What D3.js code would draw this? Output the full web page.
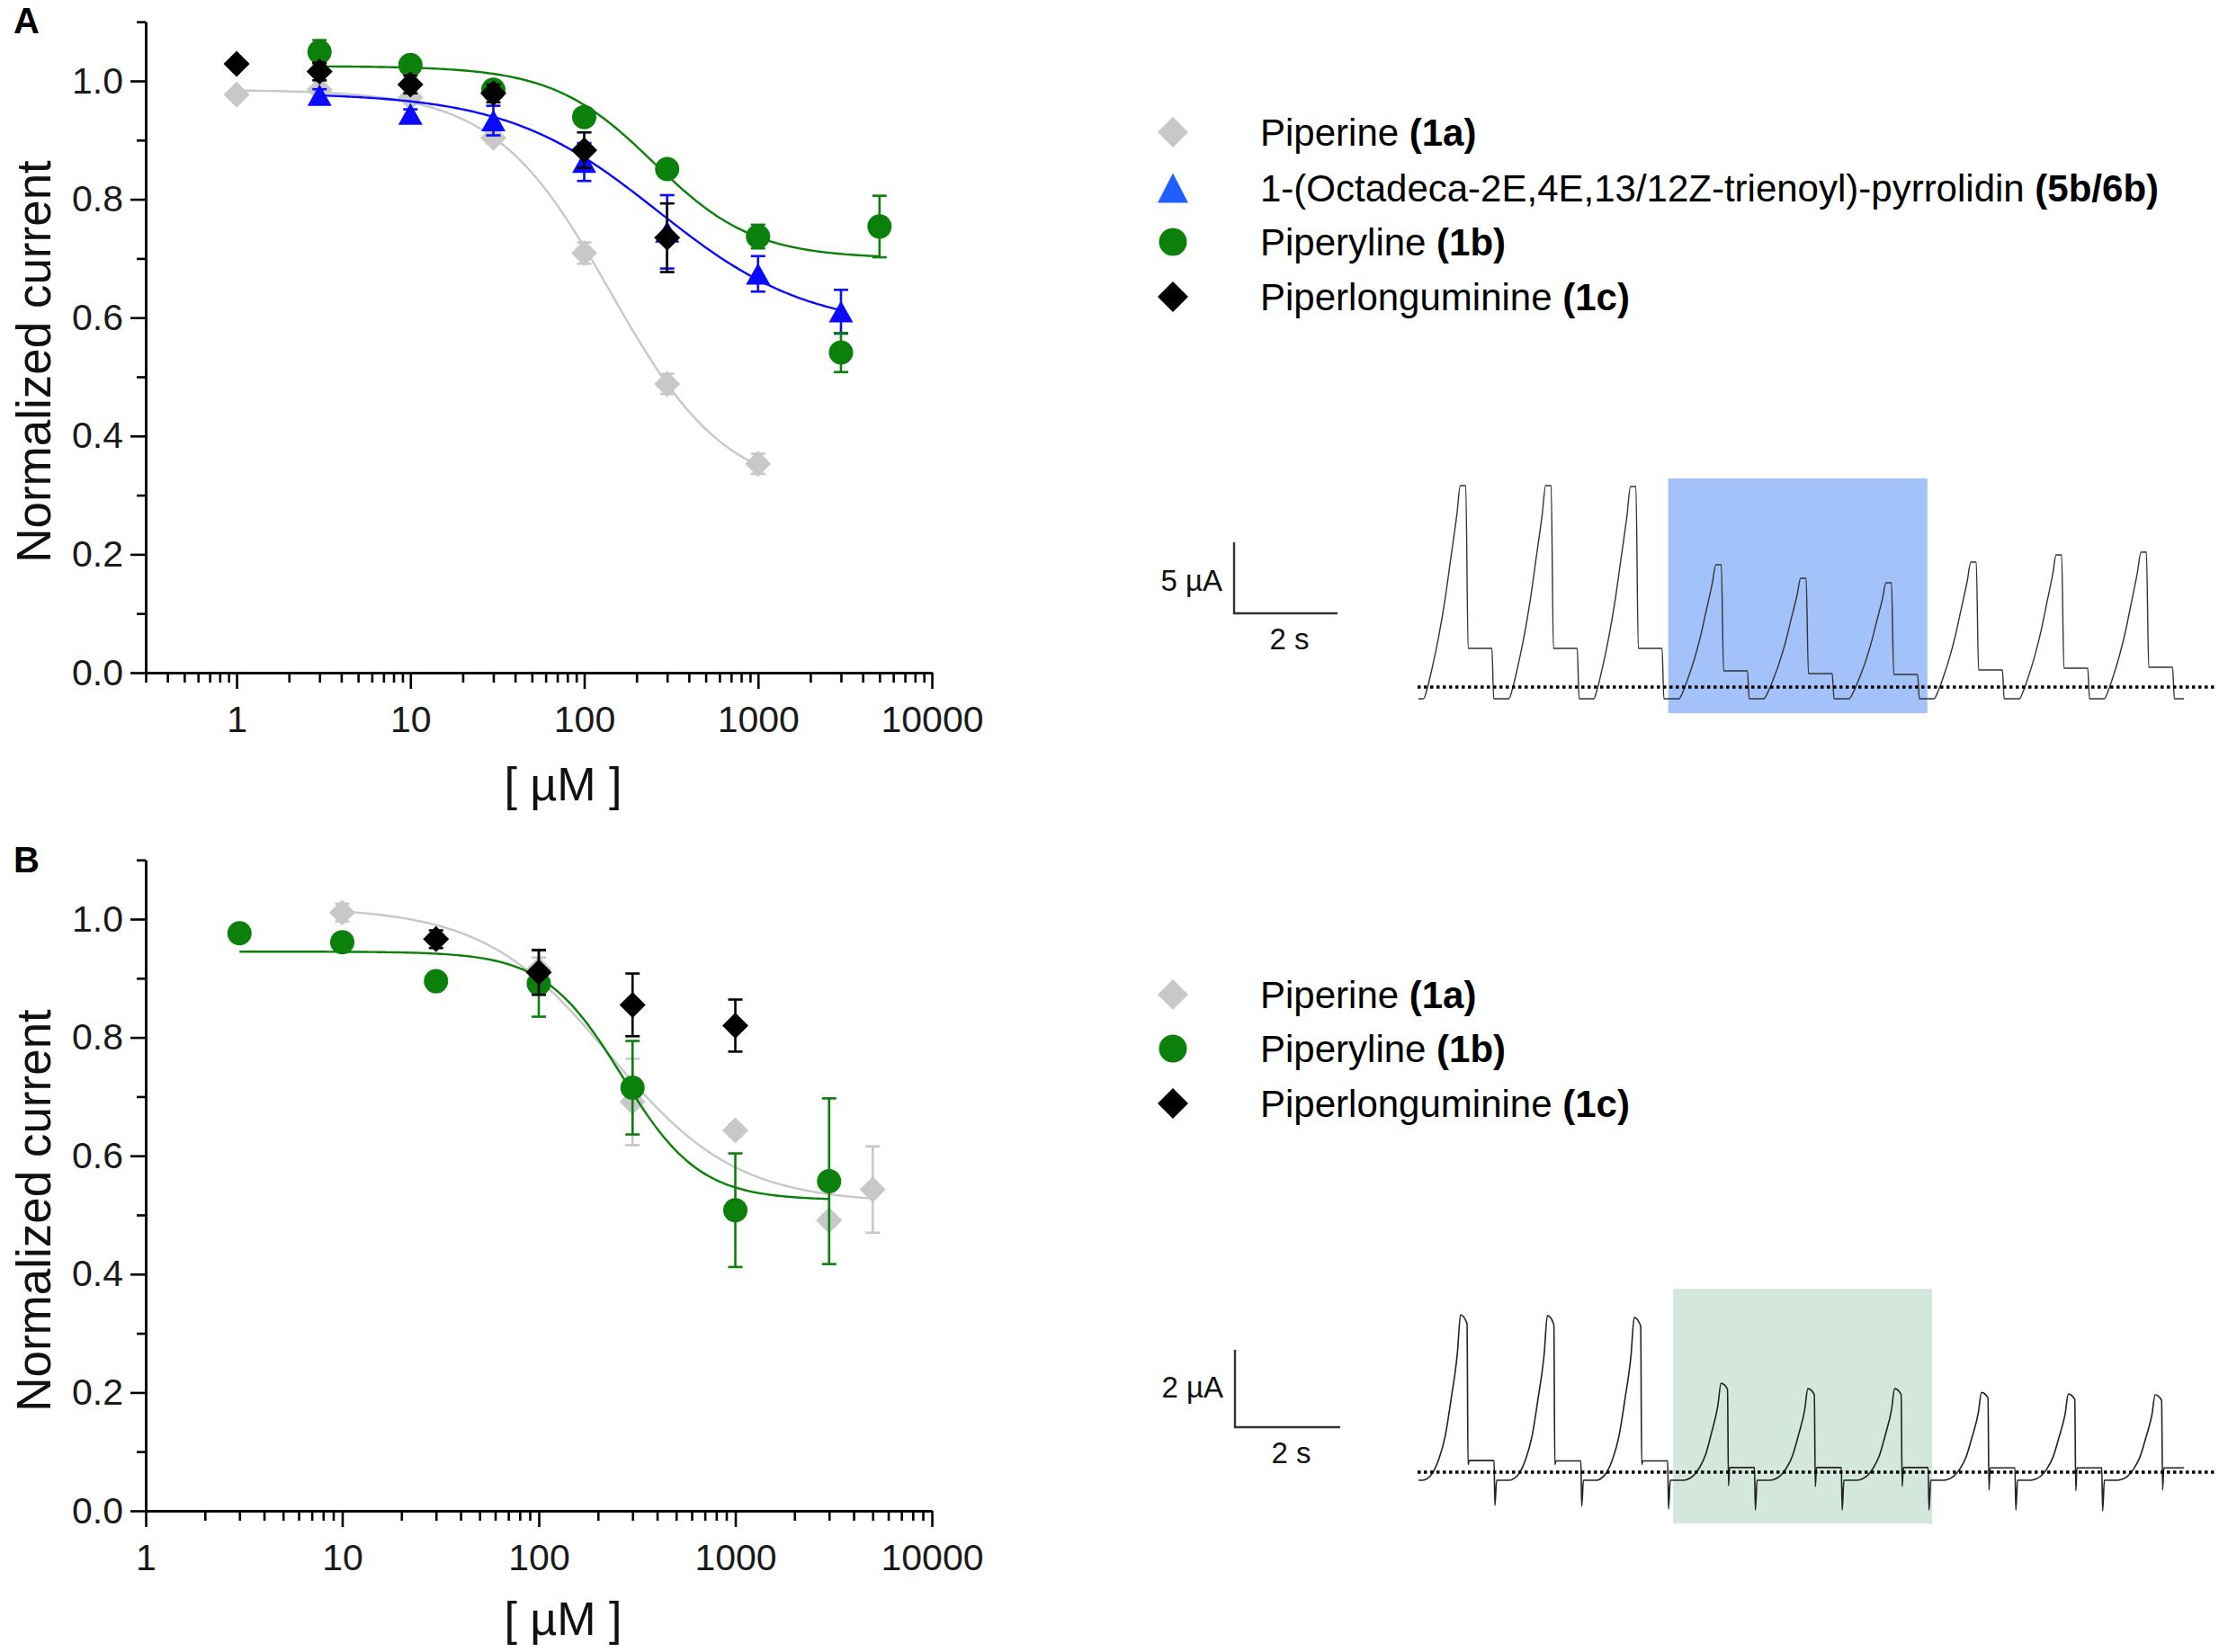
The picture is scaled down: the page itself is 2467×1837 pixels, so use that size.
<!DOCTYPE html>
<html><head><meta charset="utf-8">
<script src="https://cdn.jsdelivr.net/npm/d3@7"></script>
<style>body{margin:0;background:#fff} svg{display:block}</style>
</head><body><svg id="c" width="2467" height="1837"></svg>
<script>
// ===================== DATA =====================
// axis ticks
const xMajorTicks = [1, 10, 100, 1000, 10000];
const xTickLabels = ["1", "10", "100", "1000", "10000"];
const yMajorTicks = [0, 0.2, 0.4, 0.6, 0.8, 1.0];
const yTickLabels = ["0.0", "0.2", "0.4", "0.6", "0.8", "1.0"];
const yMinorTicks = [0.1, 0.3, 0.5, 0.7, 0.9, 1.1];

// legend
const legendNamesA = ["Piperine", "1-(Octadeca-2E,4E,13/12Z-trienoyl)-pyrrolidin", "Piperyline", "Piperlonguminine"];
const legendCodesA = ["(1a)", "(5b/6b)", "(1b)", "(1c)"];
const legendNamesB = ["Piperine", "Piperyline", "Piperlonguminine"];
const legendCodesB = ["(1a)", "(1b)", "(1c)"];

// Panel A  (concentration in µM, normalized current, SEM)
const piperineA_x = [1, 3, 10, 30, 100, 300, 1000];
const piperineA_y = [0.977, 0.985, 0.972, 0.904, 0.709, 0.488, 0.353];
const piperineA_e = [0, 0.006, 0.01, 0.01, 0.018, 0.017, 0.017];
const pyrrolidinA_x = [3, 10, 30, 100, 300, 1000, 3000];
const pyrrolidinA_y = [0.976, 0.944, 0.933, 0.863, 0.745, 0.674, 0.610];
const pyrrolidinA_e = [0.01, 0.008, 0.025, 0.032, 0.062, 0.03, 0.037];
const piperylineA_x = [3, 10, 30, 100, 300, 1000, 3000, 5000];
const piperylineA_y = [1.049, 1.027, 0.985, 0.939, 0.851, 0.737, 0.541, 0.754];
const piperylineA_e = [0.02, 0.01, 0.012, 0.01, 0.01, 0.02, 0.033, 0.052];
const piperlongA_x = [1, 3, 10, 30, 100, 300];
const piperlongA_y = [1.029, 1.016, 0.994, 0.979, 0.883, 0.735];
const piperlongA_e = [0, 0.015, 0.015, 0.015, 0.03, 0.058];

// Panel B
const piperineB_x = [10, 100, 300, 1000, 3000, 5000];
const piperineB_y = [1.011, 0.915, 0.691, 0.643, 0.491, 0.543];
const piperineB_e = [0.015, 0.02, 0.073, 0.01, 0.01, 0.073];
const piperylineB_x = [3, 10, 30, 100, 300, 1000, 3000];
const piperylineB_y = [0.976, 0.961, 0.895, 0.891, 0.715, 0.508, 0.557];
const piperylineB_e = [0, 0, 0, 0.056, 0.079, 0.096, 0.14];
const piperlongB_x = [30, 100, 300, 1000];
const piperlongB_y = [0.966, 0.910, 0.855, 0.820];
const piperlongB_e = [0.015, 0.038, 0.053, 0.044];

// Sigmoidal (Hill) fits: [top, bottom, IC50 µM, Hill slope], [from, to]
const piperineA_fit = [0.985, 0.30, 142, 1.3],  piperineA_fitRange = [1, 1000];
const pyrrolidinA_fit = [0.98, 0.58, 265, 1.0], pyrrolidinA_fitRange = [3, 3000];
const piperylineA_fit = [1.025, 0.70, 250, 1.5], piperylineA_fitRange = [3, 5000];
const piperineB_fit = [1.02, 0.52, 230, 1.35],  piperineB_fitRange = [10, 5000];
const piperylineB_fit = [0.945, 0.525, 265, 2.2], piperylineB_fitRange = [3, 3000];

// Inset A current trace (time s, current µA)
const traceA_starts  = [0.10, 1.75, 3.39, 5.04, 6.68, 8.33, 9.97, 11.62, 13.26];
const traceA_peak    = [14.18, 14.18, 14.11, 8.61, 7.66, 7.34, 8.80, 9.30, 9.49];
const traceA_plateau = [2.72, 2.72, 2.72, 1.14, 0.95, 0.89, 1.20, 1.33, 1.39];
const traceA_low = -0.82, traceA_end = 14.8;
const riseA_t = [0, 0.06, 0.17, 0.29, 0.41, 0.52, 0.64, 0.71];
const riseA_f = [0, 0.04, 0.15, 0.29, 0.46, 0.65, 0.86, 1];
const traceA_window = [4.83, 9.84], traceA_windowI = [-1.84, 14.68];

// Inset B current trace
const traceB_starts  = [0.08, 1.73, 3.38, 5.03, 6.68, 8.33, 9.98, 11.63, 13.28];
const traceB_peak    = [4.07, 4.05, 4.00, 2.30, 2.16, 2.16, 2.06, 2.02, 2.00];
const traceB_peakEnd = [3.84, 3.82, 3.78, 2.15, 2.01, 2.01, 1.92, 1.88, 1.86];
const traceB_dip     = [0.20, 0.20, 0.20, -0.35, -0.37, -0.37, -0.46, -0.48, -0.46];
const traceB_plateau = [0.30, 0.29, 0.29, 0.12, 0.12, 0.12, 0.11, 0.11, 0.11];
const traceB_tail    = [-0.86, -0.88, -0.95, -0.98, -0.98, -0.98, -0.98, -1.0, -1.0];
const traceB_low = -0.21, traceB_end = 14.55;
const riseB_t = [0, 0.085, 0.2, 0.31, 0.43, 0.54, 0.66, 0.72];
const riseB_f = [0, 0.01, 0.05, 0.13, 0.27, 0.49, 0.77, 1];
const traceB_window = [4.84, 9.76], traceB_windowI = [-1.33, 4.74];

// ===================== DRAWING =====================
const FONT = '"Liberation Sans", Arial, Helvetica, sans-serif';
const C = { gray: "#c8c8c8", blue: "#0a0aff", blueLeg: "#1f5fff", green: "#0b800b", black: "#000000" };
const svg = d3.select("#c");

function hill(p, c) { return p[1] + (p[0] - p[1]) / (1 + Math.pow(c / p[2], p[3])); }

function shapePath(shape, w, h) {
  const p = d3.path();
  if (shape === "diamond") { p.moveTo(0, -h / 2); p.lineTo(w / 2, 0); p.lineTo(0, h / 2); p.lineTo(-w / 2, 0); p.closePath(); }
  else if (shape === "triangle") { p.moveTo(0, -h / 2); p.lineTo(w / 2, h / 2); p.lineTo(-w / 2, h / 2); p.closePath(); }
  else { p.arc(0, 0, w / 2, 0, 2 * Math.PI); p.closePath(); }
  return p.toString();
}
const markerSize = { diamond: [29, 29], triangle: [27, 24], circle: [27, 27] };

function drawDose(cfg) {
  const g = svg.append("g");
  const x = d3.scaleLog().domain(cfg.xDomain).range([162, 1036]);
  const y = d3.scaleLinear().domain([0, 1.1]).range([cfg.y0, cfg.y0 - 1.1 * 658]);

  // x minor ticks
  const xMinor = [];
  [0.1, 1, 10, 100, 1000].forEach(d => { for (let m = 2; m <= 9; m++) { const v = m * d; if (v >= cfg.xDomain[0] - 1e-9 && v < cfg.xDomain[1]) xMinor.push(v); } });
  const axX = g.append("g").attr("transform", `translate(0,${cfg.y0})`);
  axX.append("g").call(d3.axisBottom(x).tickValues(xMinor).tickFormat("").tickSize(11).tickSizeOuter(0));
  axX.append("g").call(d3.axisBottom(x).tickValues(xMajorTicks).tickFormat((d, i) => xTickLabels[i]).tickSize(18).tickPadding(19).tickSizeOuter(0));
  const axY = g.append("g").attr("transform", `translate(162,0)`);
  axY.append("g").call(d3.axisLeft(y).tickValues(yMinorTicks).tickFormat("").tickSize(10).tickSizeOuter(0));
  axY.append("g").call(d3.axisLeft(y).tickValues(yMajorTicks).tickFormat((d, i) => yTickLabels[i]).tickSize(17).tickPadding(8).tickSizeOuter(0));
  g.selectAll(".domain, .tick line").attr("stroke", "#000").attr("stroke-width", 2.6);
  g.selectAll(".tick text").attr("font-family", FONT).attr("font-size", 41).attr("fill", "#1a1a1a");

  // titles
  g.append("text").attr("transform", `translate(56,${cfg.yTitleY}) rotate(-90)`).attr("text-anchor", "middle")
    .attr("font-family", FONT).attr("font-size", 53).attr("fill", "#111").text("Normalized current");
  g.append("text").attr("x", 626).attr("y", cfg.xTitleY).attr("text-anchor", "middle")
    .attr("font-family", FONT).attr("font-size", 52).attr("fill", "#111").text("[ µM ]");
  g.append("text").attr("x", 15).attr("y", cfg.labelY).attr("font-family", FONT).attr("font-weight", "bold")
    .attr("font-size", 40).attr("fill", "#000").text(cfg.label);

  const line = d3.line().x(d => x(d[0])).y(d => y(d[1]));
  cfg.series.forEach(s => {
    // fitted curve
    if (s.fit) {
      const lo = Math.log10(s.fitRange[0]), hi = Math.log10(s.fitRange[1]);
      const pts = d3.range(0, 201).map(i => { const c = Math.pow(10, lo + (hi - lo) * i / 200); return [c, hill(s.fit, c)]; });
      g.append("path").attr("d", line(pts)).attr("fill", "none").attr("stroke", s.color).attr("stroke-width", 2.4);
    }
    // error bars
    const eb = g.append("g").attr("stroke", s.color).attr("stroke-width", 2.6);
    s.x.forEach((c, i) => {
      const e = s.e[i]; if (!e) return;
      const cx = x(c), y1 = y(s.y[i] - e), y2 = y(s.y[i] + e);
      eb.append("line").attr("x1", cx).attr("x2", cx).attr("y1", y1).attr("y2", y2);
      eb.append("line").attr("x1", cx - 8).attr("x2", cx + 8).attr("y1", y1).attr("y2", y1);
      eb.append("line").attr("x1", cx - 8).attr("x2", cx + 8).attr("y1", y2).attr("y2", y2);
    });
    // markers
    const [mw, mh] = markerSize[s.shape];
    g.append("g").selectAll("path").data(s.x.map((c, i) => [c, s.y[i]])).join("path")
      .attr("d", shapePath(s.shape, mw, mh))
      .attr("transform", d => `translate(${x(d[0])},${y(d[1])})`)
      .attr("fill", s.color);
  });

  // legend
  const lg = g.append("g");
  cfg.legend.forEach((it, i) => {
    const ry = cfg.legendRows[i];
    const [w, h] = it.shape === "circle" ? [31, 31] : (it.shape === "triangle" ? [34, 33] : [34, 34]);
    lg.append("path").attr("d", shapePath(it.shape, w, h)).attr("transform", `translate(1304,${ry})`).attr("fill", it.color);
    const t = lg.append("text").attr("x", 1401).attr("y", ry + 15).attr("font-family", FONT).attr("font-size", 42).attr("fill", "#000");
    t.append("tspan").text(it.name + " ");
    t.append("tspan").attr("font-weight", "bold").text(it.code);
  });
}

drawDose({
  label: "A", labelY: 37, xDomain: [0.3, 10000], y0: 748, yTitleY: 402, xTitleY: 890,
  series: [
    { x: piperineA_x, y: piperineA_y, e: piperineA_e, fit: piperineA_fit, fitRange: piperineA_fitRange, color: C.gray, shape: "diamond" },
    { x: pyrrolidinA_x, y: pyrrolidinA_y, e: pyrrolidinA_e, fit: pyrrolidinA_fit, fitRange: pyrrolidinA_fitRange, color: C.blue, shape: "triangle" },
    { x: piperylineA_x, y: piperylineA_y, e: piperylineA_e, fit: piperylineA_fit, fitRange: piperylineA_fitRange, color: C.green, shape: "circle" },
    { x: piperlongA_x, y: piperlongA_y, e: piperlongA_e, color: C.black, shape: "diamond" }
  ],
  legend: [
    { name: legendNamesA[0], code: legendCodesA[0], color: C.gray, shape: "diamond" },
    { name: legendNamesA[1], code: legendCodesA[1], color: C.blueLeg, shape: "triangle" },
    { name: legendNamesA[2], code: legendCodesA[2], color: C.green, shape: "circle" },
    { name: legendNamesA[3], code: legendCodesA[3], color: C.black, shape: "diamond" }
  ],
  legendRows: [147, 209, 269, 330]
});

drawDose({
  label: "B", labelY: 970, xDomain: [1, 10000], y0: 1680, yTitleY: 1346, xTitleY: 1818,
  series: [
    { x: piperineB_x, y: piperineB_y, e: piperineB_e, fit: piperineB_fit, fitRange: piperineB_fitRange, color: C.gray, shape: "diamond" },
    { x: piperylineB_x, y: piperylineB_y, e: piperylineB_e, fit: piperylineB_fit, fitRange: piperylineB_fitRange, color: C.green, shape: "circle" },
    { x: piperlongB_x, y: piperlongB_y, e: piperlongB_e, color: C.black, shape: "diamond" }
  ],
  legend: [
    { name: legendNamesB[0], code: legendCodesB[0], color: C.gray, shape: "diamond" },
    { name: legendNamesB[1], code: legendCodesB[1], color: C.green, shape: "circle" },
    { name: legendNamesB[2], code: legendCodesB[2], color: C.black, shape: "diamond" }
  ],
  legendRows: [1106, 1166, 1227]
});

// ---------- current-trace insets ----------
function cutAt(pts, tEnd) {
  const out = [];
  for (let i = 0; i < pts.length; i++) {
    if (pts[i][0] <= tEnd) out.push(pts[i]);
    else { const a = pts[i - 1], b = pts[i]; const f = (tEnd - a[0]) / (b[0] - a[0]); out.push([tEnd, a[1] + f * (b[1] - a[1])]); break; }
  }
  if (out[out.length - 1][0] < tEnd) out.push([tEnd, out[out.length - 1][1]]);
  return out;
}
function traceAPoints() {
  const pts = [[0, traceA_low]];
  traceA_starts.forEach((s, i) => {
    riseA_t.forEach((t, k) => pts.push([s + t, traceA_low + riseA_f[k] * (traceA_peak[i] - traceA_low)]));
    pts.push([s + 0.815, traceA_peak[i]]);
    pts.push([s + 0.86, traceA_plateau[i]]);
    pts.push([s + 1.32, traceA_plateau[i]]);
    pts.push([s + 1.355, traceA_low]);
  });
  pts.push([traceA_end, traceA_low]);
  return cutAt(pts, traceA_end);
}
function traceBPoints() {
  const pts = [[0, traceB_low]];
  traceB_starts.forEach((s, i) => {
    riseB_t.forEach((t, k) => pts.push([s + t, traceB_low + riseB_f[k] * (traceB_peak[i] - traceB_low)]));
    pts.push([s + 0.843, traceB_peakEnd[i]]);
    pts.push([s + 0.862, traceB_dip[i]]);
    pts.push([s + 0.885, traceB_plateau[i]]);
    pts.push([s + 1.356, traceB_plateau[i]]);
    pts.push([s + 1.373, traceB_tail[i]]);
    pts.push([s + 1.405, traceB_low]);
  });
  return cutAt(pts, traceB_end);
}

function drawInset(cfg) {
  const g = svg.append("g");
  const tx = d3.scaleLinear().domain([0, 15]).range([1577, 1577 + 15 * cfg.pxPerS]);
  const ty = d3.scaleLinear().domain([0, cfg.barI]).range([cfg.zeroY, cfg.zeroY - cfg.barIpx]);
  // highlight window
  g.append("rect").attr("x", tx(cfg.win[0])).attr("width", tx(cfg.win[1]) - tx(cfg.win[0]))
    .attr("y", ty(cfg.winI[1])).attr("height", ty(cfg.winI[0]) - ty(cfg.winI[1])).attr("fill", cfg.winColor);
  // trace
  g.append("path").attr("d", d3.line().x(d => tx(d[0])).y(d => ty(d[1])).curve(d3.curveMonotoneX)(cfg.points))
    .attr("fill", "none").attr("stroke", cfg.traceColor).attr("stroke-width", cfg.traceW).attr("stroke-linejoin", "round");
  // zero line (dotted)
  g.append("line").attr("x1", 1576).attr("x2", 2463).attr("y1", ty(0)).attr("y2", ty(0))
    .attr("stroke", "#000").attr("stroke-width", 3.6).attr("stroke-dasharray", "3.5,3.5");
  // scale bar
  const bx = cfg.barX, by = cfg.barY;
  const vlen = ty(0) - ty(cfg.barI), hlen = tx(2) - tx(0);
  g.append("path").attr("d", `M${bx},${by - vlen}V${by}H${bx + hlen}`).attr("fill", "none").attr("stroke", "#333").attr("stroke-width", 2.4);
  g.append("text").attr("x", bx - 13).attr("y", cfg.iLabelY).attr("text-anchor", "end").attr("font-family", FONT).attr("font-size", 33).attr("fill", "#111").text(cfg.barI + " µA");
  g.append("text").attr("x", bx + hlen / 2 + 4).attr("y", cfg.tLabelY).attr("text-anchor", "middle").attr("font-family", FONT).attr("font-size", 33).attr("fill", "#111").text("2 s");
}

drawInset({ pxPerS: 57.5, zeroY: 764, barI: 5, barIpx: 79, win: traceA_window, winI: traceA_windowI, winColor: "#a4c2fa",
  points: traceAPoints(), traceColor: "#333", traceW: 1.4, barX: 1372, barY: 682, iLabelY: 657, tLabelY: 722 });
drawInset({ pxPerS: 58.5, zeroY: 1637, barI: 2, barIpx: 86, win: traceB_window, winI: traceB_windowI, winColor: "#d3e7dc",
  points: traceBPoints(), traceColor: "#222", traceW: 1.6, barX: 1373, barY: 1587, iLabelY: 1554, tLabelY: 1627 });
</script>
</body></html>
